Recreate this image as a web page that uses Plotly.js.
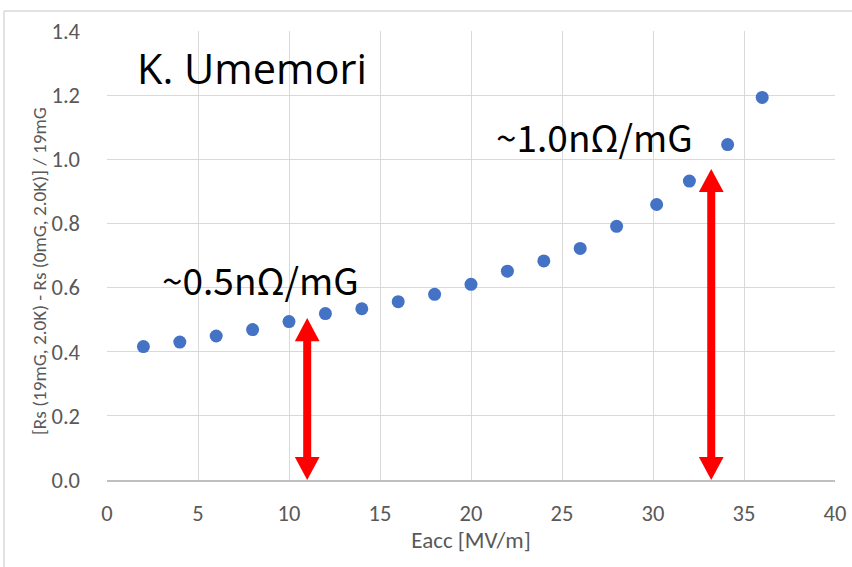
<!DOCTYPE html>
<html>
<head>
<meta charset="utf-8">
<script src="https://cdn.plot.ly/plotly-3.0.1.min.js"></script>
<style>html,body{margin:0;padding:0;background:#fff;}#chart{width:852px;height:567px;}</style>
</head>
<body>
<div id="chart"></div>
<script>
// Data
const eacc = [2, 4, 6, 8, 10, 12, 14, 16, 18, 20, 22, 24, 26, 28, 30.2, 32, 34.1, 36];
const dRs  = [0.416, 0.430, 0.449, 0.469, 0.494, 0.519, 0.534, 0.556, 0.579, 0.610, 0.651, 0.683, 0.722, 0.791, 0.859, 0.932, 1.046, 1.193];
const xTicks = [0, 5, 10, 15, 20, 25, 30, 35, 40];
const yTicks = [0, 0.2, 0.4, 0.6, 0.8, 1.0, 1.2, 1.4];
const yTickLabels = ['0.0', '0.2', '0.4', '0.6', '0.8', '1.0', '1.2', '1.4'];
// Double-headed arrows (x position, bottom, top)
const arrowX = [11, 33.2];
const arrowBottom = [0, 0];
const arrowTop = [0.505, 0.97];
const labels = ['~0.5nΩ/mG', '~1.0nΩ/mG'];
const labelX = [8.46, 26.8];
const labelY = [0.626, 1.074];

const headHalfW = 0.68;   // in x units
const headLen = 0.072;    // in y units
const shapes = [];
for (let i = 0; i < arrowX.length; i++) {
  const x = arrowX[i], b = arrowBottom[i], t = arrowTop[i];
  shapes.push({type: 'line', xref: 'x', yref: 'y', x0: x, x1: x, y0: b + headLen * 0.9, y1: t - headLen * 0.9,
    line: {color: '#ff0000', width: 8}});
  shapes.push({type: 'path', xref: 'x', yref: 'y',
    path: `M ${x - headHalfW} ${t - headLen} L ${x + headHalfW} ${t - headLen} L ${x} ${t} Z`,
    fillcolor: '#ff0000', line: {color: '#ff0000', width: 0}});
  shapes.push({type: 'path', xref: 'x', yref: 'y',
    path: `M ${x - headHalfW} ${b + headLen} L ${x + headHalfW} ${b + headLen} L ${x} ${b} Z`,
    fillcolor: '#ff0000', line: {color: '#ff0000', width: 0}});
}
// chart-area border (top and left, as in the reference)
shapes.push({type: 'line', xref: 'paper', yref: 'paper', x0: -0.1415, x1: 1.03, y0: 1.0445, y1: 1.0445,
  line: {color: '#d9d9d9', width: 1.5}});
shapes.push({type: 'line', xref: 'paper', yref: 'paper', x0: -0.1415, x1: -0.1415, y0: 1.0445, y1: -0.2,
  line: {color: '#d9d9d9', width: 1.5}});

const axisFontFamily = 'Carlito, Open Sans, sans-serif';
const annotations = [
  {xref: 'x', yref: 'y', x: labelX[0], y: labelY[0], text: labels[0], showarrow: false,
   font: {family: 'Noto Sans CJK JP', size: 37, color: '#000'}},
  {xref: 'x', yref: 'y', x: labelX[1], y: labelY[1], text: labels[1], showarrow: false,
   font: {family: 'Noto Sans CJK JP', size: 37, color: '#000'}},
  {xref: 'paper', yref: 'paper', x: 0.038, y: 0.918, xanchor: 'left', yanchor: 'middle', text: 'K. Umemori', showarrow: false,
   font: {family: 'Open Sans', size: 41.5, color: '#000'}},
  {xref: 'paper', yref: 'paper', x: -0.092, y: 0.4655, xanchor: 'center', yanchor: 'middle', textangle: -90,
   text: '[Rs (19mG, 2.0K) - Rs (0mG, 2.0K)] / 19mG', showarrow: false,
   font: {family: axisFontFamily, size: 19.2, color: '#595959'}}
];

const trace = {
  x: eacc, y: dRs, type: 'scatter', mode: 'markers',
  marker: {color: '#4472c4', size: 13}, hoverinfo: 'x+y'
};

const axisFont = {family: axisFontFamily, size: 22.5, color: '#595959'};
const layout = {
  width: 852, height: 567,
  margin: {l: 107, r: 17, t: 31, b: 87},
  paper_bgcolor: '#fff', plot_bgcolor: '#fff',
  showlegend: false,
  xaxis: {
    range: [0, 40], tickvals: xTicks, ticktext: xTicks.map(String),
    showgrid: true, gridcolor: '#d9d9d9', gridwidth: 1,
    zeroline: false, showline: true, linecolor: '#bfbfbf', linewidth: 1.5,
    ticks: '', tickfont: axisFont, ticklabelstandoff: 12,
    title: {text: 'Eacc [MV/m]', font: {family: axisFontFamily, size: 23, color: '#595959'}, standoff: 6}
  },
  yaxis: {
    range: [0, 1.4], tickvals: yTicks, ticktext: yTickLabels,
    showgrid: true, gridcolor: '#d9d9d9', gridwidth: 1,
    zeroline: false, showline: false,
    ticks: '', tickfont: axisFont, ticklabelstandoff: 26,
    title: {text: ''}
  },
  shapes: shapes,
  annotations: annotations
};

Plotly.newPlot('chart', [trace], layout, {displayModeBar: false, staticPlot: true});
</script>
</body>
</html>
